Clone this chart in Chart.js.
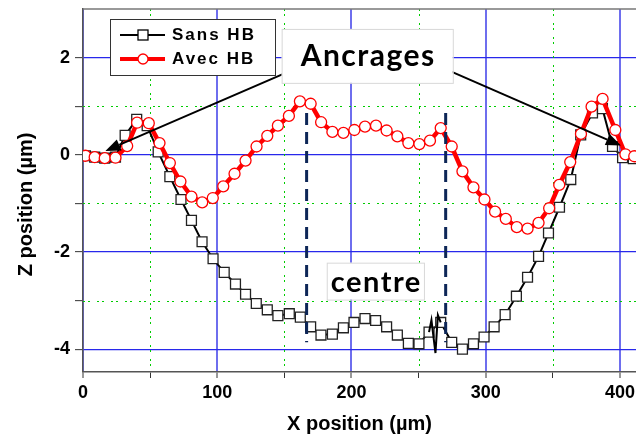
<!DOCTYPE html>
<html>
<head>
<meta charset="utf-8">
<script src="https://cdn.jsdelivr.net/npm/chart.js@4.4.1/dist/chart.umd.min.js"></script>
<style>
  html, body { margin: 0; padding: 0; background: #fff; }
  #wrap { width: 636px; height: 439px; }
</style>
</head>
<body>
<div id="wrap"><canvas id="profileChart" width="636" height="439"></canvas></div>
<script>
// Sans HB profile (black squares)
const sansX = [1.8, 8.7, 16.2, 24.2, 31.4, 40.0, 47.8, 56.0, 64.7, 73.0, 80.8, 88.7, 96.9, 105.2, 113.6,
  121.1, 129.1, 137.3, 145.2, 153.7, 161.9, 169.6, 177.3, 185.8, 194.0, 201.9, 210.1, 218.0, 226.2,
  234.2, 242.4, 250.3, 257.8, 266.5, 274.7, 282.7, 290.9, 298.8, 306.3, 314.5, 322.9, 331.2, 339.4,
  346.8, 355.0, 363.4, 370.8, 379.6, 387.0, 394.5, 402.0, 410.0];
const sansY = [-0.02, -0.05, -0.07, -0.05, 0.40, 0.73, 0.60, 0.06, -0.45, -0.92, -1.35, -1.79, -2.14, -2.42, -2.66,
  -2.87, -3.06, -3.19, -3.31, -3.27, -3.34, -3.54, -3.71, -3.69, -3.56, -3.45, -3.37, -3.41, -3.54,
  -3.71, -3.88, -3.89, -3.65, -3.45, -3.86, -4.00, -3.89, -3.75, -3.54, -3.29, -2.91, -2.52, -2.09,
  -1.61, -1.08, -0.51, 0.41, 0.86, 0.95, 0.17, -0.06, -0.08];

// small spike of the Sans HB profile near 260 µm (no markers)
const spikeX = [257.8, 259.6, 262.6, 264.4, 266.5];
const spikeY = [-3.65, -3.40, -4.08, -3.30, -3.45];

// Avec HB profile (red circles)
const avecX = [1.8, 8.7, 16.2, 24.2, 32.9, 40.3, 49.0, 57.0, 64.7, 72.6, 80.8, 88.8, 96.7, 104.5, 112.9,
  121.1, 129.3, 137.3, 145.2, 153.4, 161.6, 169.6, 177.4, 185.8, 194.0, 202.2, 210.1, 218.3, 226.2,
  234.2, 242.4, 250.6, 258.5, 266.5, 274.7, 282.7, 290.9, 299.1, 307.0, 315.0, 323.2, 331.2, 339.4,
  347.3, 354.8, 363.0, 371.0, 378.9, 387.1, 396.6, 404.1, 410.7];
const avecY = [-0.02, -0.05, -0.07, -0.06, 0.18, 0.66, 0.65, 0.24, -0.17, -0.55, -0.86, -0.98, -0.89, -0.65, -0.39,
  -0.12, 0.17, 0.39, 0.60, 0.80, 1.10, 1.05, 0.67, 0.47, 0.45, 0.51, 0.58, 0.60, 0.50,
  0.38, 0.24, 0.22, 0.29, 0.55, 0.17, -0.34, -0.67, -0.92, -1.17, -1.32, -1.49, -1.52, -1.40,
  -1.10, -0.62, -0.15, 0.43, 0.99, 1.15, 0.51, 0.01, -0.03];

// dashed limits of the "centre" zone
const centreX = [166.6, 270.2];
const centreY = [0.86, -3.86];

const xTicks = [0, 50, 100, 150, 200, 250, 300, 350, 400];
const yTicks = [-4, -3, -2, -1, 0, 1, 2];
const xMajorStep = 100;
const yMajorStep = 2;

const blueGridX = 'rgb(110,110,238)';
const blueGridY = 'rgb(40,40,235)';
const greenGrid = '#00cc00';
const axisFont = { family: 'Liberation Sans, Arial, sans-serif', size: 18, weight: 'bold' };
const titleFont = { family: 'Liberation Sans, Arial, sans-serif', size: 20, weight: 'bold' };

function toPoints(xs, ys) {
  return xs.map((v, i) => ({ x: v, y: ys[i] }));
}

function drawArrow(ctx, x0, y0, x1, y1) {
  const ang = Math.atan2(y1 - y0, x1 - x0);
  const len = 15, half = 6;
  const bx = x1 - len * Math.cos(ang), by = y1 - len * Math.sin(ang);
  ctx.beginPath();
  ctx.moveTo(x0, y0);
  ctx.lineTo(bx, by);
  ctx.stroke();
  ctx.beginPath();
  ctx.moveTo(x1, y1);
  ctx.lineTo(bx + half * Math.sin(ang), by - half * Math.cos(ang));
  ctx.lineTo(bx - half * Math.sin(ang), by + half * Math.cos(ang));
  ctx.closePath();
  ctx.fill();
}

const decor = {
  id: 'decor',
  beforeDatasetsDraw(chart) {
    const { ctx, chartArea: a, scales: { x, y } } = chart;
    ctx.save();
    // minor grid, green dotted
    ctx.strokeStyle = greenGrid;
    ctx.lineWidth = 1;
    ctx.setLineDash([2, 3, 2, 7]);
    xTicks.filter(v => v % xMajorStep).forEach(v => {
      const px = Math.round(x.getPixelForValue(v)) + 0.5;
      ctx.beginPath(); ctx.moveTo(px, a.top); ctx.lineTo(px, a.bottom); ctx.stroke();
    });
    yTicks.filter(v => v % yMajorStep).forEach(v => {
      const py = Math.round(y.getPixelForValue(v)) + 0.5;
      ctx.beginPath(); ctx.moveTo(a.left, py); ctx.lineTo(a.right, py); ctx.stroke();
    });
    // top frame
    ctx.setLineDash([]);
    ctx.strokeStyle = '#777';
    ctx.lineWidth = 1.5;
    ctx.beginPath(); ctx.moveTo(a.left, a.top); ctx.lineTo(a.right, a.top); ctx.stroke();
    ctx.restore();
  },
  afterDatasetsDraw(chart) {
    const { ctx, scales: { x, y } } = chart;
    ctx.save();

    // "Ancrages" label and its two arrows
    ctx.strokeStyle = '#000';
    ctx.fillStyle = '#000';
    ctx.lineWidth = 2;
    drawArrow(ctx, x.getPixelForValue(153.2), y.getPixelForValue(1.71), x.getPixelForValue(16.7), y.getPixelForValue(0.08));
    drawArrow(ctx, x.getPixelForValue(268.0), y.getPixelForValue(1.79), x.getPixelForValue(400.8), y.getPixelForValue(0.19));

    let bx0 = x.getPixelForValue(148), bx1 = x.getPixelForValue(275.5);
    let by0 = y.getPixelForValue(2.59), by1 = y.getPixelForValue(1.48);
    ctx.fillStyle = '#fff';
    ctx.fillRect(bx0, by0, bx1 - bx0, by1 - by0);
    ctx.strokeStyle = '#d8d8d8';
    ctx.lineWidth = 1;
    ctx.strokeRect(bx0 + 0.5, by0 + 0.5, bx1 - bx0, by1 - by0);
    ctx.fillStyle = '#000';
    ctx.font = 'bold 30px Lato, sans-serif';
    ctx.letterSpacing = '1.5px';
    ctx.textAlign = 'center';
    ctx.textBaseline = 'alphabetic';
    ctx.fillText('Ancrages', (bx0 + bx1) / 2 + 1, by0 + 37);

    // "centre" label
    bx0 = x.getPixelForValue(181.6); bx1 = x.getPixelForValue(254.0);
    by0 = y.getPixelForValue(-2.22); by1 = y.getPixelForValue(-2.98);
    ctx.fillStyle = '#fff';
    ctx.fillRect(bx0, by0, bx1 - bx0, by1 - by0);
    ctx.strokeStyle = '#d8d8d8';
    ctx.strokeRect(bx0 + 0.5, by0 + 0.5, bx1 - bx0, by1 - by0);
    ctx.fillStyle = '#000';
    ctx.font = 'bold 29px Lato, sans-serif';
    ctx.letterSpacing = '1.5px';
    ctx.fillText('centre', (bx0 + bx1) / 2 + 1, by0 + 29);

    // legend box
    ctx.letterSpacing = '2px';
    ctx.fillStyle = '#fff';
    ctx.fillRect(110, 19, 165, 56);
    ctx.strokeStyle = '#333';
    ctx.lineWidth = 1;
    ctx.strokeRect(110.5, 19.5, 165, 56);
    // Sans HB sample
    ctx.strokeStyle = '#000';
    ctx.lineWidth = 2;
    ctx.beginPath(); ctx.moveTo(120, 35); ctx.lineTo(165, 35); ctx.stroke();
    ctx.fillStyle = '#fff';
    ctx.fillRect(138, 30, 10, 10);
    ctx.lineWidth = 1.3;
    ctx.strokeRect(138, 30, 10, 10);
    // Avec HB sample
    ctx.strokeStyle = '#ff0000';
    ctx.lineWidth = 4;
    ctx.beginPath(); ctx.moveTo(120, 59); ctx.lineTo(165, 59); ctx.stroke();
    ctx.fillStyle = '#fff';
    ctx.lineWidth = 1.3;
    ctx.beginPath(); ctx.arc(143, 59, 5, 0, Math.PI * 2); ctx.fill(); ctx.stroke();
    ctx.fillStyle = '#000';
    ctx.font = 'bold 17px Liberation Sans, Arial, sans-serif';
    ctx.textAlign = 'left';
    ctx.textBaseline = 'middle';
    ctx.fillText('Sans HB', 172, 35);
    ctx.fillText('Avec HB', 172, 59);

    ctx.restore();
  }
};

new Chart(document.getElementById('profileChart'), {
  type: 'line',
  data: {
    datasets: [
      {
        label: 'centre left',
        data: toPoints([centreX[0], centreX[0]], centreY),
        borderColor: '#0d2657',
        borderWidth: 3,
        borderDash: [12, 7],
        pointRadius: 0,
        order: 0
      },
      {
        label: 'centre right',
        data: toPoints([centreX[1], centreX[1]], centreY),
        borderColor: '#0d2657',
        borderWidth: 3,
        borderDash: [12, 7],
        pointRadius: 0,
        order: 0
      },
      {
        label: 'Avec HB',
        data: toPoints(avecX, avecY),
        borderColor: '#ff0000',
        borderWidth: 4.5,
        pointStyle: 'circle',
        pointRadius: 5.5,
        pointBorderWidth: 1.3,
        pointBackgroundColor: '#fff',
        pointBorderColor: '#ff0000',
        tension: 0,
        order: 1
      },
      {
        label: 'spike',
        data: toPoints(spikeX, spikeY),
        borderColor: '#000',
        borderWidth: 2,
        pointRadius: 0,
        order: 2
      },
      {
        label: 'Sans HB',
        data: toPoints(sansX, sansY),
        borderColor: '#000',
        borderWidth: 2,
        pointStyle: 'rect',
        pointRadius: 7,
        pointBorderWidth: 1.3,
        pointBackgroundColor: '#fff',
        pointBorderColor: '#222',
        tension: 0,
        order: 3
      }
    ]
  },
  options: {
    responsive: false,
    animation: false,
    layout: { autoPadding: false, padding: { top: 9, right: 0, left: 0, bottom: 0 } },
    plugins: {
      legend: { display: false },
      tooltip: { enabled: false }
    },
    scales: {
      x: {
        type: 'linear',
        min: 0,
        max: 412,
        afterBuildTicks: s => { s.ticks = xTicks.map(v => ({ value: v })); },
        afterFit: s => { s.height = 67; s.paddingLeft = 0; s.paddingRight = 0; },
        ticks: {
          autoSkip: false,
          maxRotation: 0,
          padding: 4,
          color: '#000',
          font: axisFont,
          callback: v => (v % xMajorStep === 0 ? v : '')
        },
        grid: {
          color: c => (c.tick && c.tick.value % xMajorStep === 0 ? blueGridX : 'rgba(0,0,0,0)'),
          lineWidth: c => (c.tick && c.tick.value % xMajorStep === 0 ? 2 : 1),
          tickColor: '#333',
          tickWidth: 1,
          tickLength: 6
        },
        border: { color: '#555', width: 1.5 },
        title: {
          display: true,
          text: 'X position (µm)',
          color: '#000',
          font: titleFont,
          padding: { top: 0, bottom: 3 }
        }
      },
      y: {
        type: 'linear',
        min: -4.47,
        max: 3,
        afterBuildTicks: s => { s.ticks = yTicks.map(v => ({ value: v })); },
        afterFit: s => { s.width = 83; s.paddingTop = 0; s.paddingBottom = 0; },
        ticks: {
          autoSkip: false,
          padding: 5,
          color: '#000',
          font: axisFont,
          callback: v => (v % yMajorStep === 0 ? v : '')
        },
        grid: {
          color: c => (c.tick && c.tick.value % yMajorStep === 0 ? blueGridY : 'rgba(0,0,0,0)'),
          lineWidth: 1.3,
          tickColor: '#333',
          tickWidth: 1,
          tickLength: 8
        },
        border: { color: '#555', width: 1.5 },
        title: {
          display: true,
          // trailing non-breaking spaces push the label slightly downwards, as in the original
          text: 'Z position (µm)\u00A0\u00A0\u00A0\u00A0\u00A0',
          color: '#000',
          font: titleFont,
          padding: { top: 14, bottom: 0 }
        }
      }
    }
  },
  plugins: [decor]
});
</script>
</body>
</html>
